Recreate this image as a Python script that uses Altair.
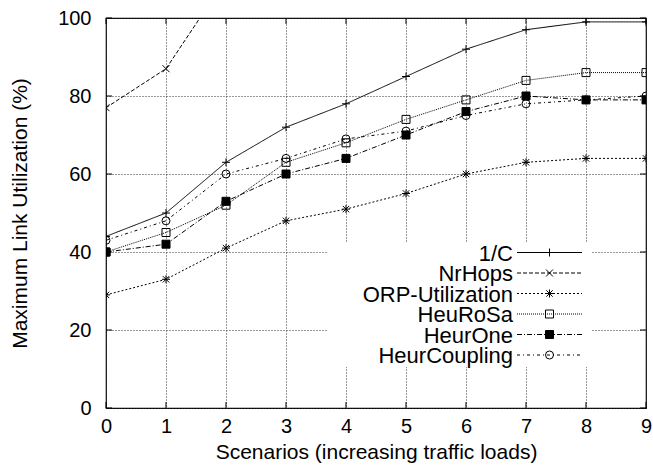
import altair as alt
import pandas as pd

# ---- data ----
scenarios = [0, 1, 2, 3, 4, 5, 6, 7, 8, 9]
series_names = ["1/C", "NrHops", "ORP-Utilization", "HeuRoSa", "HeurOne", "HeurCoupling"]
inv_c = [44, 50, 63, 72, 78, 85, 92, 97, 99, 99]
nrhops = [77, 87, 110]  # leaves the plot above 100 after scenario 1
orp_util = [29, 33, 41, 48, 51, 55, 60, 63, 64, 64]
heurosa = [40, 45, 52, 63, 68, 74, 79, 84, 86, 86]
heurone = [40, 42, 53, 60, 64, 70, 76, 80, 79, 79]
heurcoupling = [43, 48, 60, 64, 69, 71, 75, 78, 79, 80]
y_ticks = [0, 20, 40, 60, 80, 100]

values = [inv_c, nrhops, orp_util, heurosa, heurone, heurcoupling]

# ---- styles ----
PLUS = "M-1,0L1,0M0,-1L0,1"
XMARK = "M-1,-1L1,1M-1,1L1,-1"
STAR = "M-1,0L1,0M0,-1L0,1M-0.8,-0.8L0.8,0.8M-0.8,0.8L0.8,-0.8"
styles = {
    "1/C": dict(dash=[1, 0], shape=PLUS, filled=False, size=64),
    "NrHops": dict(dash=[4, 2], shape=XMARK, filled=False, size=49),
    "ORP-Utilization": dict(dash=[2, 2], shape=STAR, filled=False, size=64),
    "HeuRoSa": dict(dash=[1, 1], shape="square", filled=False, size=64),
    "HeurOne": dict(dash=[5, 2, 1, 2], shape="square", filled=True, size=64),
    "HeurCoupling": dict(dash=[3, 3, 1, 3], shape="circle", filled=False, size=64),
}

FONT = "Liberation Sans"
W, H = 540, 390
TICK = 6  # inward tick length (px)

xscale = alt.Scale(domain=[0, 9], nice=False, zero=False)
yscale = alt.Scale(domain=[0, 100], nice=False)

xaxis = alt.Axis(values=scenarios, format="d", title="Scenarios (increasing traffic loads)",
                 grid=True, gridDash=[1, 2], gridColor="#333", ticks=False, domain=False,
                 labelFont=FONT, labelFontSize=20, labelColor="black", labelPadding=8,
                 titleFont=FONT, titleFontSize=21, titleFontWeight="normal", titleColor="black",
                 titlePadding=5, labelFlush=False)
yaxis = alt.Axis(values=y_ticks, format="d", title="Maximum Link Utilization (%)",
                 grid=True, gridDash=[1, 2], gridColor="#333", ticks=False, domain=False,
                 labelFont=FONT, labelFontSize=20, labelColor="black", labelPadding=15,
                 titleFont=FONT, titleFontSize=21, titleFontWeight="normal", titleColor="black",
                 titlePadding=27, labelFlush=False)

X = alt.X("x:Q", scale=xscale, axis=xaxis)
Y = alt.Y("y:Q", scale=yscale, axis=yaxis)

layers = []

# white key box that clears the grid (as gnuplot does); pixel box converted to data units
bx0, bx1, by0, by1 = 221, 486, 224, 349
box_df = pd.DataFrame({
    "x": [bx0 / W * 9], "x2": [bx1 / W * 9],
    "y": [(H - by0) / H * 100], "y2": [(H - by1) / H * 100],
})
layers.append(
    alt.Chart(box_df).mark_rect(color="white", opacity=1).encode(
        x=X, x2="x2:Q", y=Y, y2="y2:Q"
    )
)

# inward tick marks on all four sides (gnuplot style)
xt = pd.DataFrame({"x": scenarios})
yt = pd.DataFrame({"y": y_ticks})
layers.append(alt.Chart(xt).mark_rule(color="black", strokeWidth=1).encode(
    x=X, y=alt.value(H), y2=alt.value(H - TICK)))
layers.append(alt.Chart(xt).mark_rule(color="black", strokeWidth=1).encode(
    x=X, y=alt.value(0), y2=alt.value(TICK)))
layers.append(alt.Chart(yt).mark_rule(color="black", strokeWidth=1).encode(
    y=Y, x=alt.value(0), x2=alt.value(TICK)))
layers.append(alt.Chart(yt).mark_rule(color="black", strokeWidth=1).encode(
    y=Y, x=alt.value(W), x2=alt.value(W - TICK)))

for name, vals in zip(series_names, values):
    st = styles[name]
    df = pd.DataFrame({"x": scenarios[: len(vals)], "y": vals})
    layers.append(
        alt.Chart(df).mark_line(color="black", strokeWidth=1, strokeDash=st["dash"], clip=True).encode(x=X, y=Y)
    )
    layers.append(
        alt.Chart(df).mark_point(shape=st["shape"], size=st["size"], filled=st["filled"],
                                 color="black", stroke="black", strokeWidth=1,
                                 opacity=1, clip=True).encode(x=X, y=Y)
    )

# key (labels right-aligned, sample line + marker to their right)
for i, name in enumerate(series_names):
    st = styles[name]
    yy = 234.5 + 20.5 * i
    kdf = pd.DataFrame({"label": [name]})
    layers.append(
        alt.Chart(kdf).mark_text(align="right", baseline="middle", font=FONT, fontSize=22,
                                 color="black").encode(
            text="label:N", x=alt.value(407), y=alt.value(yy + 1)
        )
    )
    layers.append(
        alt.Chart(kdf).mark_rule(color="black", strokeWidth=1, strokeDash=st["dash"]).encode(
            x=alt.value(411), x2=alt.value(476), y=alt.value(yy)
        )
    )
    layers.append(
        alt.Chart(kdf).mark_point(shape=st["shape"], size=st["size"], filled=st["filled"],
                                  color="black", stroke="black", strokeWidth=1, opacity=1).encode(
            x=alt.value(443.5), y=alt.value(yy)
        )
    )

chart = alt.layer(*layers).properties(
    width=W, height=H,
    autosize=alt.AutoSizeParams(type="none"),
    padding={"left": 106, "top": 18, "right": 7, "bottom": 62},
    background="white",
).configure_view(stroke="black", strokeWidth=1.2)

chart.save("out.html", embed_options={"renderer": "svg", "actions": False})
